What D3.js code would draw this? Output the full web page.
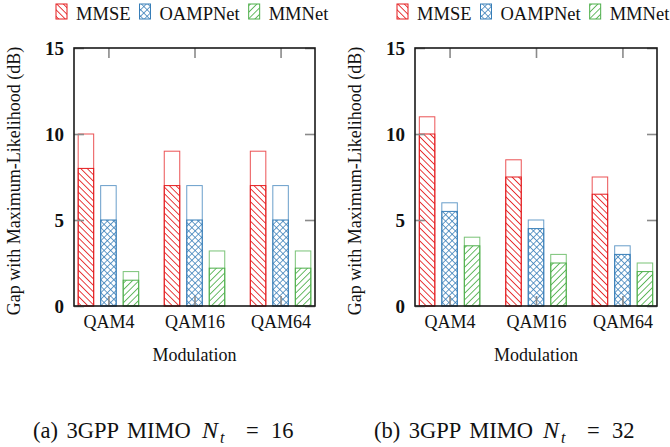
<!DOCTYPE html>
<html>
<head>
<meta charset="utf-8">
<script src="https://cdn.jsdelivr.net/npm/d3@7"></script>
<style>
  body { margin: 0; background: #fff; }
  svg text { font-family: "Liberation Serif", "Tinos", "DejaVu Serif", serif !important; fill: #111; }
</style>
</head>
<body>
<script>
// categories and series
const modulations = ['QAM4', 'QAM16', 'QAM64'];
const methods = ['MMSE', 'OAMPNet', 'MMNet'];
const yTicks = [0, 5, 10, 15];

// Nt = 16 : hatched part and full (outlined) height
const mmse16 = [8, 7, 7];
const mmse16Top = [10, 9, 9];
const oamp16 = [5, 5, 5];
const oamp16Top = [7, 7, 7];
const mmnet16 = [1.5, 2.2, 2.2];
const mmnet16Top = [2, 3.2, 3.2];

// Nt = 32
const mmse32 = [10, 7.5, 6.5];
const mmse32Top = [11, 8.5, 7.5];
const oamp32 = [5.5, 4.5, 3];
const oamp32Top = [6, 5, 3.5];
const mmnet32 = [3.5, 2.5, 2];
const mmnet32Top = [4, 3, 2.5];

const colors = {MMSE: '#e41a1c', OAMPNet: '#377eb8', MMNet: '#4daf4a'};
const hatch = {MMSE: 'hatch-mmse', OAMPNet: 'hatch-oamp', MMNet: 'hatch-mmnet'};
const serif = '"Liberation Serif", "Tinos", "DejaVu Serif", serif';

const svg = d3.select('body').append('svg').attr('width', 670).attr('height', 447)
    .attr('font-family', serif);
const defs = svg.append('defs');

// line patterns, rotate(45) gives "/" and rotate(-45) gives "\"
const addPattern = (id, color, angle, gap, cross, w) => {
    const p = defs.append('pattern')
        .attr('id', id)
        .attr('patternUnits', 'userSpaceOnUse')
        .attr('width', gap).attr('height', gap)
        .attr('patternTransform', `rotate(${angle})`);
    p.append('line')
        .attr('x1', gap / 2).attr('y1', -1).attr('x2', gap / 2).attr('y2', gap + 1)
        .attr('stroke', color).attr('stroke-width', w);
    if (cross) {
        p.append('line')
            .attr('x1', -1).attr('y1', gap / 2).attr('x2', gap + 1).attr('y2', gap / 2)
            .attr('stroke', color).attr('stroke-width', w);
    }
};
addPattern('hatch-mmse', colors.MMSE, -45, 4.6, false, 0.85);
addPattern('hatch-oamp', colors.OAMPNet, 45, 4.6, true, 0.75);
addPattern('hatch-mmnet', colors.MMNet, 45, 4.6, false, 0.85);

const drawPanel = (opts) => {
    const g = svg.append('g');

    const x = d3.scalePoint().domain(modulations).range([opts.x0, opts.x1]).padding(0.4);
    const xOff = d3.scalePoint().domain(methods).range([-22.5, 22.5]);
    const y = d3.scaleLinear().domain([0, 15]).range([306, 48]);
    const barW = 15.5;

    // bars: outlined full height first, hatched part on top
    methods.forEach((m, mi) => {
        const rows = modulations.map((q, i) => ({q, low: opts.low[mi][i], top: opts.top[mi][i]}));
        const bars = g.append('g');
        bars.selectAll('rect.top')
            .data(rows)
            .enter().append('rect')
                .attr('class', 'top')
                .attr('x', d => x(d.q) + xOff(m) - barW / 2)
                .attr('y', d => y(d.top))
                .attr('width', barW)
                .attr('height', d => y(0) - y(d.top))
                .attr('fill', '#fff')
                .attr('stroke', colors[m])
                .attr('stroke-opacity', 0.75)
                .attr('stroke-width', 1);
        bars.selectAll('rect.low')
            .data(rows)
            .enter().append('rect')
                .attr('class', 'low')
                .attr('x', d => x(d.q) + xOff(m) - barW / 2)
                .attr('y', d => y(d.low))
                .attr('width', barW)
                .attr('height', d => y(0) - y(d.low))
                .attr('fill', `url(#${hatch[m]})`)
                .attr('stroke', colors[m])
                .attr('stroke-width', 1);
    });

    // gray inward ticks on all four sides
    const yl = g.append('g').attr('transform', `translate(${opts.x0},0)`)
        .call(d3.axisLeft(y).tickValues(yTicks).tickSizeInner(-10).tickSizeOuter(0).tickPadding(10));
    const yr = g.append('g').attr('transform', `translate(${opts.x1},0)`)
        .call(d3.axisRight(y).tickValues(yTicks).tickSizeInner(-10).tickSizeOuter(0).tickFormat(''));
    const xb = g.append('g').attr('transform', `translate(0,${y(0)})`)
        .call(d3.axisBottom(x).tickSizeInner(-10).tickSizeOuter(0).tickPadding(9));
    const xt = g.append('g').attr('transform', `translate(0,${y(15)})`)
        .call(d3.axisTop(x).tickSizeInner(-10).tickSizeOuter(0).tickFormat(''));

    [yl, yr, xb, xt].forEach(a => {
        a.attr('font-family', serif);
        a.select('.domain').remove();
        a.selectAll('.tick line').attr('stroke', '#8a8a8a').attr('stroke-width', 1.6);
    });
    yl.selectAll('.tick text')
        .attr('font-weight', 'bold')
        .attr('font-size', 19)
        .attr('fill', '#111');
    xb.selectAll('.tick text')
        .attr('font-size', 18)
        .attr('fill', '#111');

    // frame
    g.append('rect')
        .attr('x', opts.x0).attr('y', y(15))
        .attr('width', opts.x1 - opts.x0).attr('height', y(0) - y(15))
        .attr('fill', 'none')
        .attr('stroke', '#1a1a1a')
        .attr('stroke-width', 1.6);

    // axis titles
    g.append('text')
        .attr('x', (opts.x0 + opts.x1) / 2).attr('y', 361)
        .attr('text-anchor', 'middle')
        .attr('font-size', 18)
        .text('Modulation');
    g.append('text')
        .attr('transform', `translate(${opts.x0 - 54},181) rotate(-90)`)
        .attr('text-anchor', 'middle')
        .attr('font-size', 18)
        .text('Gap with Maximum-Likelihood (dB)');

    // legend
    const leg = g.append('g').attr('transform', `translate(${opts.x0 - 18},0)`);
    let lx = 0;
    methods.forEach(m => {
        leg.append('rect')
            .attr('x', lx).attr('y', 4)
            .attr('width', 11).attr('height', 15)
            .attr('fill', `url(#${hatch[m]})`)
            .attr('stroke', colors[m])
            .attr('stroke-width', 1);
        const t = leg.append('text')
            .attr('x', lx + 20).attr('y', 20)
            .attr('font-size', 18.5)
            .text(m);
        lx += 20 + t.node().getComputedTextLength() + 9;
    });

    // caption, pieces placed like the LaTeX math spacing
    const cap = g.append('g').attr('transform', `translate(${opts.capX},438)`)
        .attr('font-size', 22.5);
    cap.append('text').attr('x', 0).attr('word-spacing', 3).text(`${opts.label} 3GPP MIMO`);
    cap.append('text').attr('x', 169).attr('font-style', 'italic').attr('font-size', 24).text('N');
    cap.append('text').attr('x', 187).attr('y', 5).attr('font-style', 'italic').attr('font-size', 16).text('t');
    cap.append('text').attr('x', 213).text('=');
    cap.append('text').attr('x', 238).text(opts.nt);
};

drawPanel({
    x0: 74, x1: 315, capX: 33, label: '(a)', nt: 16,
    low: [mmse16, oamp16, mmnet16],
    top: [mmse16Top, oamp16Top, mmnet16Top]
});
drawPanel({
    x0: 415, x1: 657, capX: 374, label: '(b)', nt: 32,
    low: [mmse32, oamp32, mmnet32],
    top: [mmse32Top, oamp32Top, mmnet32Top]
});
</script>
</body>
</html>
